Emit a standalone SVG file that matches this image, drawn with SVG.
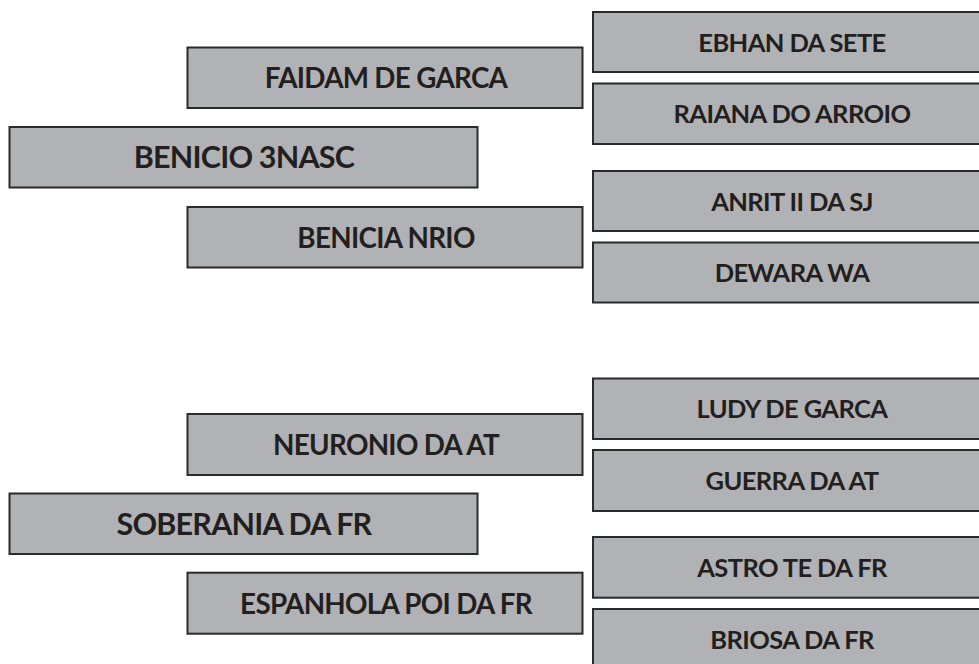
<svg xmlns="http://www.w3.org/2000/svg" width="979" height="664" viewBox="0 0 979 664">
<style>
.box{fill:#b1b2b5;stroke:#2a2a2a;stroke-width:2}
.t{font-family:Lato,"Liberation Sans",sans-serif;font-weight:700;fill:#231f20;text-anchor:middle;font-size:25.5px;letter-spacing:-0.6px}
.mid{font-size:27.8px;letter-spacing:-0.7px}
.big{font-size:30.5px;letter-spacing:-0.8px}
</style>
<rect width="979" height="664" fill="#ffffff"/>
<g id="connectors"></g>
<g id="benicio"><rect class="box" x="9.5" y="127" width="468" height="60.5"/><text class="t big" x="244" y="168">BENICIO 3NASC</text></g>
<g id="faidam"><rect class="box" x="187.5" y="47.5" width="395" height="60.5"/><text class="t mid" x="386" y="88">FAIDAM DE GARCA</text></g>
<g id="benicia"><rect class="box" x="187.5" y="207" width="395" height="60.5"/><text class="t mid" x="386" y="247.5">BENICIA NRIO</text></g>
<g id="ebhan"><rect class="box" x="593" y="12" width="396" height="60"/><text class="t" x="792" y="51.5">EBHAN DA SETE</text></g>
<g id="raiana"><rect class="box" x="593" y="83.5" width="396" height="60.5"/><text class="t" x="792" y="123">RAIANA DO ARROIO</text></g>
<g id="anrit"><rect class="box" x="593" y="171" width="396" height="60"/><text class="t" x="792" y="210.5">ANRIT II DA SJ</text></g>
<g id="dewara"><rect class="box" x="593" y="242.5" width="396" height="60"/><text class="t" x="792" y="282">DEWARA WA</text></g>
<g id="soberania"><rect class="box" x="9.5" y="493.5" width="468" height="60.5"/><text class="t big" x="244" y="535">SOBERANIA DA FR</text></g>
<g id="neuronio"><rect class="box" x="187.5" y="414" width="395" height="61"/><text class="t mid" x="386" y="454.5">NEURONIO DA AT</text></g>
<g id="espanhola"><rect class="box" x="187.5" y="572.7" width="395" height="61"/><text class="t mid" x="386" y="613.5">ESPANHOLA POI DA FR</text></g>
<g id="ludy"><rect class="box" x="593" y="378.5" width="396" height="60.5"/><text class="t" x="792" y="418">LUDY DE GARCA</text></g>
<g id="guerra"><rect class="box" x="593" y="450" width="396" height="61"/><text class="t" x="792" y="489.5">GUERRA DA AT</text></g>
<g id="astro"><rect class="box" x="593" y="537" width="396" height="60.7"/><text class="t" x="792" y="576.5">ASTRO TE DA FR</text></g>
<g id="briosa"><rect class="box" x="593" y="609" width="396" height="70"/><text class="t" x="792" y="648.5">BRIOSA DA FR</text></g>
</svg>
